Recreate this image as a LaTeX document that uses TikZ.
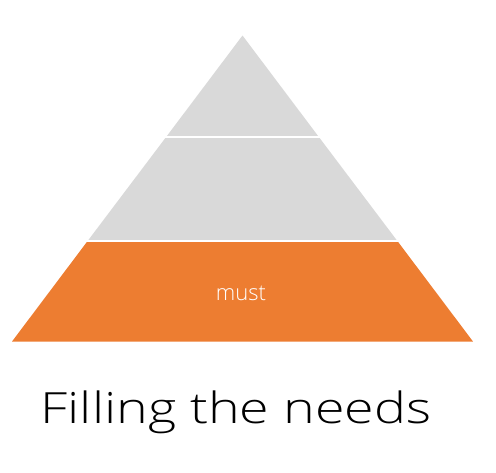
\documentclass[tikz,border=0pt]{standalone}
\usepackage{fontspec}
\setmainfont{Open Sans}
\IfFontExistsTF{Open Sans Light}{\newfontfamily\lightfont{Open Sans Light}}{\newfontfamily\lightfont{Open Sans}}
\definecolor{mustorange}{HTML}{ED7D31}
\definecolor{layergray}{HTML}{D9D9D9}
\begin{document}
\begin{tikzpicture}[x=1pt,y=-1pt]
\tikzset{gap/.style={draw=white,line width=2pt},
         every node/.style={inner sep=0pt}}
\useasboundingbox (0,0) rectangle (496,472);
% corners of the pyramid
\coordinate (apex) at (242.5,35.5);
\coordinate (topl) at (166.5,136.5);
\coordinate (topr) at (318.5,136.5);
\coordinate (midl) at (88,240.5);
\coordinate (midr) at (397,240.5);
\coordinate (basel) at (12,341.5);
\coordinate (baser) at (473,341.5);
\fill[layergray] (apex) -- (topl) -- (topr) -- cycle;
\fill[layergray] (topl) -- (midl) -- (midr) -- (topr) -- cycle;
\fill[mustorange] (midl) -- (basel) -- (baser) -- (midr) -- cycle;
\draw[gap] ([xshift=-3pt]topl) -- ([xshift=3pt]topr);
\draw[gap] ([xshift=-3pt]midl) -- ([xshift=3pt]midr);
\node[anchor=base,text=white,font=\lightfont\fontsize{22}{24}\selectfont] (must) at (241,300) {must};
\node[anchor=base,font=\lightfont\fontsize{43}{46}\selectfont,xscale=1.25,transform shape] (title) at (236,423) {Filling the needs};
\end{tikzpicture}
\end{document}
